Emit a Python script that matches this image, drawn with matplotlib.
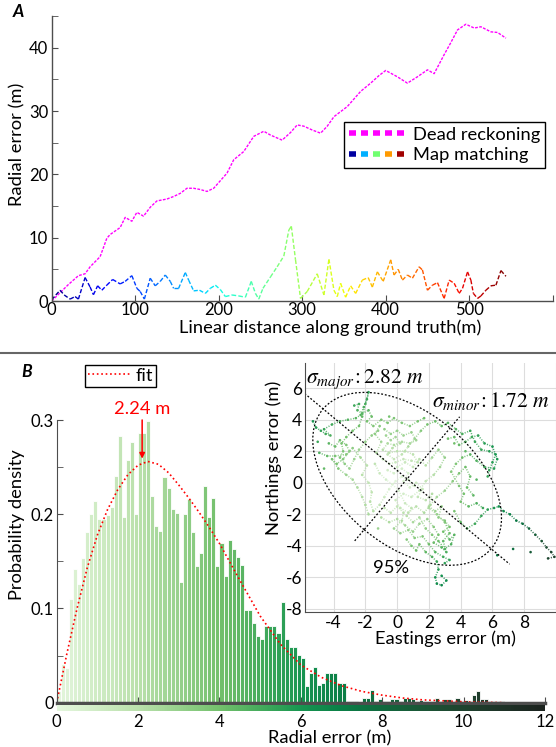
import numpy as np
import matplotlib
matplotlib.use('Agg')
import matplotlib.pyplot as plt
from matplotlib.collections import LineCollection
from matplotlib.colors import LinearSegmentedColormap, Normalize
from matplotlib.lines import Line2D
from matplotlib.legend_handler import HandlerTuple
from matplotlib.patches import Ellipse
from matplotlib.cm import ScalarMappable

plt.rcParams['font.family'] = ['Lato', 'DejaVu Sans']
plt.rcParams['mathtext.fontset'] = 'stix'

# ---------------- panel A data ----------------
dr_x = [0, 10, 20, 32, 40, 46, 58, 66, 70, 82, 88, 96, 102, 110, 118, 126, 138, 146, 154, 162,
        170, 178, 186, 194, 202, 210, 218, 230, 242, 254, 262, 276, 286, 294, 302, 312, 322,
        330, 338, 354, 370, 382, 392, 400, 414, 426, 438, 450, 458, 470, 478, 486, 496, 506,
        514, 526, 534, 544]
dr_y = [0, 1.3, 2.6, 4.0, 4.3, 5.4, 7.0, 9.9, 10.5, 11.6, 13.2, 12.6, 14.0, 13.4, 14.8, 15.8,
        16.1, 16.5, 17.0, 17.8, 17.8, 17.6, 17.3, 17.8, 19.0, 20.2, 22.3, 23.6, 26.0, 26.8,
        26.2, 25.4, 26.6, 27.8, 27.6, 27.0, 26.5, 27.6, 29.1, 30.7, 33.1, 34.4, 35.6, 36.4,
        35.4, 34.4, 35.4, 36.5, 35.9, 38.9, 40.8, 42.8, 43.7, 43.1, 43.3, 42.5, 42.4, 41.5]

mm_x = [0, 10, 15, 22, 28, 32, 40, 46, 50, 55, 60, 66, 73, 82, 88, 96, 102, 106, 111, 118,
        124, 130, 136, 142, 146, 152, 160, 164, 170, 177, 184, 190, 196, 202, 208, 216, 224,
        232, 239, 244, 248, 253, 262, 270, 278, 284, 287, 292, 298, 306, 318, 326, 332, 338,
        342, 346, 352, 358, 364, 372, 379, 384, 390, 397, 406, 410, 415, 420, 426, 432, 440,
        444, 450, 456, 462, 470, 476, 482, 488, 492, 498, 502, 505, 510, 514, 520, 526, 532,
        538, 544]
mm_y = [0.2, 1.7, 0.95, 0.3, 0.7, 0.3, 3.7, 2.2, 1.0, 2.4, 1.7, 2.5, 3.4, 2.7, 3.1, 4.0, 2.0,
        1.5, 0.3, 3.6, 2.4, 3.1, 4.1, 3.1, 2.0, 2.0, 4.5, 3.3, 1.6, 1.7, 1.2, 2.0, 2.5, 1.8,
        0.7, 0.95, 0.8, 0.6, 3.1, 1.2, 0.3, 2.0, 3.8, 5.4, 7.1, 11.2, 11.8, 6.5, 0.4, 1.5,
        4.3, 0.95, 6.6, 1.7, 0.7, 2.8, 0.6, 2.4, 1.2, 3.3, 3.7, 2.2, 4.6, 3.1, 6.5, 4.1, 5.0,
        3.3, 4.1, 3.6, 5.4, 4.9, 1.7, 2.5, 2.9, 0.4, 3.3, 2.8, 1.2, 2.0, 4.6, 3.3, 1.2, 0.4,
        0.8, 1.7, 2.4, 2.5, 4.8, 3.9]

legend_labels_a = ['Dead reckoning', 'Map matching']
mm_legend_colors = ['#0000a0', '#00b0ff', '#70ff70', '#ff9a00', '#a00000']

# ---------------- panel B data ----------------
hist_values = [0.012, 0.041, 0.037, 0.110, 0.142, 0.126, 0.154, 0.181, 0.200, 0.214,
               0.195, 0.195, 0.199, 0.208, 0.241, 0.283, 0.197, 0.258, 0.277, 0.200,
               0.286, 0.286, 0.299, 0.219, 0.187, 0.182, 0.239, 0.228, 0.206, 0.201,
               0.128, 0.200, 0.216, 0.181, 0.145, 0.159, 0.230, 0.197, 0.217, 0.145,
               0.170, 0.134, 0.173, 0.163, 0.155, 0.146, 0.098, 0.098, 0.085, 0.071,
               0.068, 0.081, 0.081, 0.081, 0.074, 0.107, 0.068, 0.059, 0.059, 0.051,
               0.047, 0.018, 0.032, 0.038, 0.019, 0.021, 0.032, 0.032, 0.032, 0.021,
               0.021, 0.002, 0.002, 0.002, 0.000, 0.005, 0.005, 0.013, 0.002, 0.004,
               0.002, 0.002, 0.004, 0.004, 0.002, 0.005, 0.005, 0.004, 0.002, 0.003,
               0.002, 0.002, 0.002, 0.005, 0.002, 0.004, 0.004, 0.002, 0.005, 0.002,
               0.003, 0.002, 0.008, 0.012, 0.004, 0.004, 0.002, 0.002, 0.002, 0.002]
bin_width = 0.1

fit_x = [0, 0.25, 0.5, 0.75, 1.0, 1.25, 1.5, 1.75, 2.0, 2.24, 2.5, 2.75, 3.0, 3.25, 3.5, 3.75,
         4.0, 4.5, 5.0, 5.5, 6.0, 6.5, 7.0, 7.5, 8.0, 8.5, 9.0, 9.5, 10.0, 11.0]
fit_y = [0, 0.052, 0.100, 0.143, 0.178, 0.205, 0.226, 0.242, 0.252, 0.256, 0.253, 0.244,
         0.231, 0.217, 0.202, 0.186, 0.169, 0.130, 0.092, 0.062, 0.040, 0.027, 0.018, 0.012,
         0.008, 0.005, 0.003, 0.002, 0.001, 0.0]
peak_text = '2.24 m'
peak_arrow_x = 2.1

# inset: error tracks (easting, northing)
tracks = [
    [(-5.3, 3.9), (-5.1, 3.5), (-4.8, 3.3), (-4.5, 3.1), (-4.2, 3.0), (-4.6, 3.4), (-4.1, 3.7),
     (-3.6, 3.9), (-3.1, 4.0), (-2.6, 4.1), (-2.3, 4.3), (-2.1, 4.8), (-1.9, 5.3), (-1.8, 5.75),
     (-2.0, 5.0), (-2.2, 4.2), (-2.4, 3.6), (-2.8, 3.3), (-3.2, 2.9), (-3.5, 2.5), (-3.4, 2.0),
     (-3.6, 1.6), (-3.3, 1.2), (-3.0, 0.9), (-2.7, 1.5), (-2.4, 2.1), (-2.0, 2.6), (-1.6, 3.0),
     (-1.2, 3.3)],
    [(-4.9, 1.9), (-4.4, 1.7), (-3.9, 1.7), (-3.2, 1.8), (-2.8, 2.2), (-2.3, 1.6), (-1.9, 1.1),
     (-2.2, 0.5), (-1.8, 0.0), (-1.6, -0.6), (-1.7, -1.2), (-1.5, -1.8), (-1.1, -1.4),
     (-0.8, -0.9), (-0.5, -0.4), (-0.1, 0.1), (0.3, 0.4), (0.7, 0.2), (1.1, -0.2)],
    [(-0.7, 3.0), (-0.4, 2.7), (-0.1, 2.9), (0.2, 2.5), (-0.3, 2.2), (-0.6, 1.8), (-0.2, 1.5),
     (0.3, 1.8), (0.7, 2.3), (1.1, 2.8), (1.5, 3.3), (1.9, 3.7), (2.4, 3.9), (2.8, 3.6),
     (3.2, 3.8), (3.7, 3.4), (4.1, 3.1), (4.6, 3.3), (4.9, 2.6), (5.3, 2.1), (5.8, 2.0),
     (6.2, 1.8), (6.0, 1.3), (5.8, 0.8), (5.7, 0.4)],
    [(0.0, 1.0), (0.5, 1.3), (1.0, 1.0), (1.4, 1.5), (1.8, 1.1), (2.2, 1.6), (2.6, 2.1),
     (3.0, 1.6), (2.7, 1.0), (2.3, 0.5), (1.8, 0.1), (1.4, -0.5), (0.9, -0.9), (0.4, -0.7),
     (-0.1, -1.1), (0.2, -1.6), (0.7, -1.9), (1.2, -1.5), (1.7, -1.9), (2.1, -1.4), (2.5, -0.9),
     (3.0, -0.5), (3.5, 0.1), (3.9, 0.6), (4.3, 1.0), (4.6, 0.4), (4.4, -0.3), (4.8, -0.8)],
    [(-1.0, -2.2), (-0.5, -2.5), (0.0, -2.3), (0.5, -2.7), (1.0, -3.1), (1.4, -2.6), (1.9, -2.3),
     (2.3, -2.8), (2.6, -3.3), (2.3, -3.8), (2.8, -4.1), (3.1, -4.4), (2.9, -3.7), (3.3, -3.2),
     (3.0, -2.5), (2.5, -2.0), (2.0, -1.6)],
    [(0.6, -3.6), (0.9, -4.0), (1.2, -4.3), (1.4, -3.9), (1.8, -4.4), (2.2, -4.7), (2.5, -5.0),
     (2.6, -5.5), (2.4, -6.0), (2.5, -6.4), (2.8, -6.5), (3.1, -6.2), (2.8, -5.9)],
    [(3.6, -1.8), (4.0, -2.5), (4.4, -2.9), (4.9, -2.6), (5.3, -2.1), (5.7, -1.7), (6.1, -1.6),
     (6.4, -1.5), (6.7, -1.8), (7.1, -2.0), (7.5, -2.4), (7.9, -2.6), (8.3, -2.9), (8.7, -3.3),
     (9.1, -3.7), (9.4, -4.1), (9.7, -4.4), (9.9, -4.7), (9.5, -4.8)],
    [(-0.8, 3.4), (-0.4, 3.1), (0.0, 3.3), (0.4, 3.0), (0.9, 3.2), (1.2, 2.7), (0.8, 2.5),
     (0.3, 2.6), (-0.2, 2.4), (-0.6, 2.5), (-0.9, 2.1), (-0.5, 1.9), (0.0, 2.0), (0.5, 2.0),
     (1.0, 1.8), (1.3, 1.3), (0.9, 1.4), (0.4, 1.5), (-0.1, 1.3), (-0.5, 1.2), (-0.9, 1.5),
     (-1.3, 1.9), (-1.0, 2.6), (-1.4, 3.1), (-1.1, 3.6)],
    [(-0.6, 0.8), (-0.2, 0.6), (0.3, 0.9), (0.7, 0.6), (0.4, 0.1), (0.8, -0.3), (1.2, 0.0),
     (1.6, -0.4), (1.3, -0.9), (1.8, -1.1), (2.2, -0.7), (2.0, -1.5), (2.4, -1.8), (2.8, -1.5),
     (2.6, -2.2), (3.0, -2.4), (3.3, -2.8), (2.9, -3.1), (3.3, -3.6), (3.6, -3.3), (3.4, -3.9),
     (3.0, -4.2), (2.6, -3.7), (2.2, -3.3), (1.8, -2.9), (1.4, -2.2), (1.0, -2.5), (0.6, -2.1),
     (0.9, -1.6), (0.5, -1.3), (0.1, -0.5), (-0.3, -0.1), (-0.7, 0.2), (-1.1, 0.6), (-1.4, 1.2)],
    [(-4.3, 2.5), (-3.9, 2.3), (-3.6, 2.7), (-3.2, 2.4), (-3.0, 2.0), (-3.4, 1.5), (-3.8, 1.2),
     (-4.1, 1.5), (-3.7, 0.9), (-3.2, 0.5), (-2.8, 0.2), (-2.5, -0.3), (-2.2, -0.9), (-2.0, -1.4),
     (-1.8, -2.0)],
    [(-2.7, 4.9), (-2.4, 5.0), (-2.5, 4.6), (-2.2, 4.4), (-1.8, 4.6), (-1.6, 4.2), (-1.9, 3.9),
     (-1.5, 3.6), (-1.0, 4.0), (-0.6, 3.8), (-0.2, 4.1), (0.3, 3.8), (0.8, 3.6), (1.3, 3.9),
     (1.7, 4.1)],
    [(3.2, 2.8), (3.6, 2.9), (3.9, 2.4), (4.3, 2.6), (4.7, 2.9), (5.1, 3.0), (5.5, 2.5),
     (6.0, 2.3), (6.3, 1.5), (6.1, 0.9), (5.5, 1.0), (5.0, 1.4), (4.6, 1.8), (4.1, 1.6),
     (3.7, 1.2), (3.4, 0.7), (3.9, -0.2), (4.2, -0.7), (4.0, -1.2), (4.5, -1.5), (5.0, -1.3),
     (5.4, -1.6)],
    [(-0.8, -1.6), (-0.4, -1.9), (0.0, -1.5), (0.4, -1.9), (0.3, -2.4), (-0.2, -2.9), (0.2, -3.2),
     (0.7, -3.0), (1.1, -3.5), (1.6, -3.4), (2.0, -3.9), (2.4, -4.4), (2.9, -4.7), (3.3, -4.9),
     (3.0, -5.1)],
]
singles = [(7.3, -4.2), (8.4, -4.4), (6.3, -4.6), (-4.6, 0.9), (-5.0, 2.6), (-1.2, -2.9),
           (3.6, 2.5), (4.3, 2.0), (5.0, 0.2), (-0.5, 4.2)]

ell_center = (0.63, 0.25)
sigma_major = 2.82
sigma_minor = 1.72
ell_angle = -40.0
conf_scale = 2.448  # 95 %
axis_ext = 1.22

# ---------------- figure ----------------
W, H = 556, 747
fig = plt.figure(figsize=(W / 100, H / 100), dpi=100)


def box(l, t, r, b):
    return [l / W, 1 - b / H, (r - l) / W, (b - t) / H]


greens = LinearSegmentedColormap.from_list('gr', [
    (0.0, '#e4f6dd'), (1 / 6, '#b9e0ab'), (2 / 6, '#73c06c'), (5 / 12, '#45ab5c'),
    (0.5, '#179551'), (7 / 12, '#0b7f47'), (8 / 12, '#10693e'), (9 / 12, '#1b5636'),
    (10 / 12, '#1f432f'), (11 / 12, '#1e3227'), (1.0, '#1b221e')])
gnorm = Normalize(0, 12)
spine_c = '#4d4d4d'
tick_fs = 12
lab_fs = 13.2

# ---- panel A ----
ax = fig.add_axes(box(51.7, 16, 552.7, 301))
ax.plot(dr_x, dr_y, color='#ff00ff', lw=1.0, ls=(0, (2, 1)))
mmx = np.array(mm_x, float)
mmy = np.array(mm_y, float)
segs = np.stack([np.column_stack([mmx[:-1], mmy[:-1]]), np.column_stack([mmx[1:], mmy[1:]])], axis=1)
lc = LineCollection(segs, cmap='jet', norm=Normalize(0, 545), lw=1.0, linestyles=(0, (3, 1.5)))
lc.set_array((mmx[:-1] + mmx[1:]) / 2)
ax.add_collection(lc)
ax.set_xlim(0, 600)
ax.set_ylim(0, 45)
for s in ['top', 'right']:
    ax.spines[s].set_visible(False)
for s in ['left', 'bottom']:
    ax.spines[s].set_color(spine_c)
    ax.spines[s].set_linewidth(1.0)
ax.set_xticks([0, 100, 200, 300, 400, 500, 600])
ax.set_xticklabels(['0', '100', '200', '300', '400', '500', ''])
ax.set_yticks([0, 10, 20, 30, 40])
ax.set_yticks([5, 15, 25, 35, 45], minor=True)
ax.tick_params(direction='in', length=4, color=spine_c, labelsize=tick_fs, pad=1)
ax.tick_params(axis='y', pad=2.5)
ax.tick_params(which='minor', direction='in', length=4, color=spine_c)
ax.set_ylabel('Radial error (m)', fontsize=lab_fs)
ax.yaxis.set_label_coords(-0.052, 0.55)
ax.set_xlabel('Linear distance along ground truth(m)', fontsize=lab_fs)
ax.xaxis.set_label_coords(0.555, -0.066)

dr_h = tuple(Line2D([], [], color='#ff00ff', lw=4, solid_capstyle='butt') for _ in range(5))
mm_h = tuple(Line2D([], [], color=c, lw=4, solid_capstyle='butt') for c in mm_legend_colors)
leg = ax.legend([dr_h, mm_h], legend_labels_a, handler_map={tuple: HandlerTuple(ndivide=None, pad=0.25)},
                loc='upper right', bbox_to_anchor=(545 / W, 1 - 122 / H), bbox_transform=fig.transFigure,
                fontsize=lab_fs, handlelength=3.0, fancybox=False, edgecolor='black', framealpha=1,
                borderaxespad=0, borderpad=0.25, labelspacing=0.25, handletextpad=0.5)
leg.get_frame().set_linewidth(1.0)

# separator + panel letters
fig.add_artist(Line2D([0, 1], [1 - 352.7 / H] * 2, color='#666666', lw=1.5))
fig.text(18 / W, 1 - 12 / H, 'A', fontsize=12.5, fontweight='bold', fontstyle='italic', ha='center', va='center')
fig.text(27 / W, 1 - 372 / H, 'B', fontsize=12.5, fontweight='bold', fontstyle='italic', ha='center', va='center')

# ---- panel B histogram ----
b_right = 545
bx = fig.add_axes(box(56.7, 420, b_right, 702.7))
centers = (np.arange(len(hist_values)) + 0.5) * bin_width
bx.bar(centers, hist_values, width=bin_width, color=greens(gnorm(centers)), edgecolor='white', linewidth=0.6)
bx.plot(fit_x, fit_y, color='red', ls=':', lw=1.2, label='fit')
bx.set_xlim(0, 12)
bx.set_ylim(0, 0.3)
for s in ['top', 'right']:
    bx.spines[s].set_visible(False)
bx.spines['left'].set_color(spine_c)
bx.spines['bottom'].set_color(spine_c)
bx.spines['bottom'].set_linewidth(2.5)
bx.spines['bottom'].set_zorder(5)
bx.set_xticks(range(0, 13, 2))
bx.set_xticklabels([])
bx.set_yticks([0, 0.1, 0.2, 0.3])
bx.set_yticklabels(['0', '0.1', '0.2', '0.3'])
bx.set_yticks([0.05, 0.15, 0.25], minor=True)
bx.tick_params(direction='in', length=4, color=spine_c, labelsize=tick_fs, pad=2)
bx.tick_params(which='minor', direction='in', length=4, color=spine_c)
bx.set_ylabel('Probability density', fontsize=lab_fs)
bx.yaxis.set_label_coords(-0.064, 0.63)
bx.annotate(peak_text, xy=(peak_arrow_x, 0.259), xytext=(peak_arrow_x, 0.303),
            color='red', fontsize=lab_fs, ha='center', va='bottom', annotation_clip=False,
            arrowprops=dict(arrowstyle='-|>', color='red', lw=1.1, mutation_scale=8, shrinkA=0, shrinkB=0))
lg = bx.legend(loc='upper left', bbox_to_anchor=(85 / W, 1 - 365 / H), bbox_transform=fig.transFigure,
               fontsize=lab_fs, handlelength=2.3, fancybox=False, edgecolor='black', framealpha=1,
               borderaxespad=0, borderpad=0.15, handletextpad=0.3)
lg.get_frame().set_linewidth(1.0)

cax = fig.add_axes(box(56.7, 704.5, b_right, 711))
cb = fig.colorbar(ScalarMappable(norm=gnorm, cmap=greens), cax=cax, orientation='horizontal')
cb.outline.set_visible(False)
cax.set_xticks(range(0, 13, 2))
cax.tick_params(length=0, labelsize=tick_fs, pad=2)
cax.set_xlabel('Radial error (m)', fontsize=lab_fs)
cax.xaxis.set_label_coords(0.56, -3.0)

# ---- inset scatter ----
ix = fig.add_axes(box(305, 363, 556, 612))
ix.patch.set_alpha(0)
inorm = Normalize(0, 13)
pts_all = []
for tr in tracks:
    t = np.array(tr)
    sg = np.stack([t[:-1], t[1:]], axis=1)
    mid = np.hypot(*((t[:-1] + t[1:]) / 2).T)
    lct = LineCollection(sg, cmap=greens, norm=inorm, lw=1.1, linestyles=(0, (0.7, 1.0)), alpha=0.85)
    lct.set_array(mid)
    ix.add_collection(lct)
    pts_all.append(t)
pts_all.append(np.array(singles))
P = np.vstack(pts_all)
ix.scatter(P[:, 0], P[:, 1], c=np.hypot(P[:, 0], P[:, 1]), cmap=greens, norm=inorm, s=3.5, linewidths=0)

ell = Ellipse(ell_center, 2 * conf_scale * sigma_major, 2 * conf_scale * sigma_minor, angle=ell_angle,
              fill=False, ls=(0, (1.5, 1.5)), color='black', lw=0.9)
ix.add_patch(ell)
a = np.deg2rad(ell_angle)
for sig, ang in [(sigma_major, a), (sigma_minor, a + np.pi / 2)]:
    L = conf_scale * sig * axis_ext
    dx, dy = L * np.cos(ang), L * np.sin(ang)
    ix.plot([ell_center[0] - dx, ell_center[0] + dx], [ell_center[1] - dy, ell_center[1] + dy],
            color='black', ls=(0, (1.5, 1.5)), lw=0.9)

ix.text(-5.75, 6.3, r'$\sigma_{major}\!:2.82\ m$', fontsize=15.5, va='baseline', ha='left')
ix.text(2.2, 4.8, r'$\sigma_{minor}\!:1.72\ m$', fontsize=15.5, va='baseline', ha='left')
ix.text(-0.36, -5.42, '95%', fontsize=lab_fs, ha='center', va='center')

ix.set_xlim(-5.8, 10)
ix.set_ylim(-8.2, 7.6)
ix.set_xticks(range(-4, 11, 2))
ix.set_xticklabels(['-4', '-2', '0', '2', '4', '6', '8', ''])
ix.set_yticks(range(-8, 7, 2))
ix.set_yticklabels([str(v) for v in range(-8, 7, 2)])
ix.grid(True, color='#dddddd', lw=0.8)
ix.set_axisbelow(True)
for s in ['top', 'right']:
    ix.spines[s].set_visible(False)
for s in ['left', 'bottom']:
    ix.spines[s].set_color(spine_c)
ix.tick_params(length=0, labelsize=12.5, pad=2)
ix.set_ylabel('Northings error (m)', fontsize=lab_fs)
ix.yaxis.set_label_coords(-0.092, 0.62)
ix.set_xlabel('Eastings error (m)', fontsize=lab_fs)
ix.xaxis.set_label_coords(0.56, -0.075)

fig.savefig('out.png', dpi=100)
